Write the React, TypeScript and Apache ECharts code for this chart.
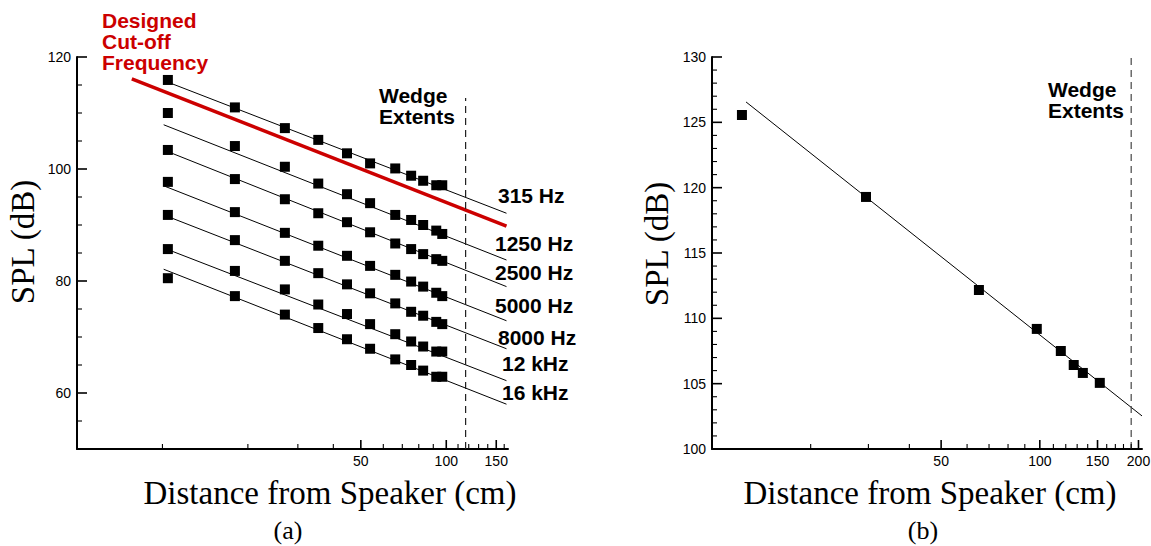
import React, { useEffect, useRef } from 'react';
import * as echarts from 'echarts';

// ---------- Panel (a) data ----------
const distA = [10.45, 18.0, 27.0, 35.4, 44.7, 53.9, 66.1, 75.2, 82.9, 92.2, 96.8];
const freqLabels = ['315 Hz', '1250 Hz', '2500 Hz', '5000 Hz', '8000 Hz', '12 kHz', '16 kHz'];
const spl315 = [115.9, 111.0, 107.3, 105.2, 102.8, 101.0, 100.1, 98.8, 97.9, 97.1, 97.1];
const spl1250 = [110.0, 104.1, 100.4, 97.4, 95.5, 93.9, 91.8, 90.9, 90.0, 89.0, 88.4];
const spl2500 = [103.4, 98.2, 94.6, 92.1, 90.5, 88.7, 86.7, 85.7, 84.8, 83.9, 83.6];
const spl5000 = [97.7, 92.3, 88.6, 86.3, 84.5, 82.7, 81.1, 79.9, 79.0, 77.9, 77.3];
const spl8000 = [91.8, 87.3, 83.6, 81.4, 79.4, 77.8, 76.0, 74.5, 73.8, 72.7, 72.3];
const spl12k = [85.7, 81.8, 78.5, 75.8, 74.1, 72.3, 70.5, 69.2, 68.3, 67.4, 67.4];
const spl16k = [80.5, 77.3, 74.0, 71.6, 69.6, 67.9, 66.0, 65.0, 64.0, 62.9, 62.9];
const splA = [spl315, spl1250, spl2500, spl5000, spl8000, spl12k, spl16k];

// fitted lines (endpoints) for panel (a)
const fitDistA = [10.1, 163];
const fitStartA = [115.8, 107.9, 103.4, 97.0, 91.8, 85.9, 82.1];
const fitEndA = [92.1, 83.75, 79.0, 72.9, 67.9, 62.2, 58.0];

// designed cut-off frequency line
const cutoffDist = [7.8, 163];
const cutoffSpl = [116.1, 89.8];

// wedge extents (a)
const wedgeDistA = 117;
const wedgeSplA = [50, 112.7];

// axis ranges and ticks (a)
const xRangeA = [5, 165];
const yRangeA = [50, 120];
const xMajorA = [50, 100, 150];
const xMinorA = [10, 20, 30, 40, 60, 70, 80, 90, 110, 120, 130, 140, 160];
const yMajorA = [60, 80, 100, 120];
const yMinorA = [55, 65, 70, 75, 85, 90, 95, 105, 110, 115];

// ---------- Panel (b) data ----------
const distB = [12.34, 29.5, 65.2, 97.9, 115.9, 126.9, 135.3, 152.4];
const splB = [125.56, 119.29, 112.17, 109.19, 107.5, 106.43, 105.82, 105.06];
const fitDistB = [12.7, 205];
const fitSplB = [126.56, 102.53];
const wedgeDistB = 190;
const wedgeSplB = [100, 130];

// axis ranges and ticks (b)
const xRangeB = [10, 205];
const yRangeB = [100, 130];
const xMajorB = [50, 100, 150, 200];
const xMinorB = [20, 30, 40, 60, 70, 80, 90, 110, 120, 130, 140, 160, 170, 180, 190];
const yMajorB = [100, 105, 110, 115, 120, 125, 130];
const yMinorB = [101, 102, 103, 104, 106, 107, 108, 109, 111, 112, 113, 114, 116, 117, 118, 119, 121, 122, 123, 124, 126, 127, 128, 129];

const L = (d: number) => Math.log10(d);
const SANS = '"Liberation Sans", Arial, sans-serif';
const SERIF = '"Liberation Serif", "Times New Roman", serif';

function xAxisCfg(gridIndex: number, range: number[], major: number[]) {
  return {
    type: 'value',
    gridIndex,
    position: 'bottom',
    min: L(range[0]),
    max: L(range[1]),
    splitLine: { show: false },
    axisLine: { show: true, onZero: false, lineStyle: { color: '#000', width: 2 } },
    axisTick: { show: false },
    axisLabel: {
      show: true,
      color: '#000',
      fontSize: 14,
      fontFamily: SANS,
      margin: 5,
      customValues: major.map(L),
      formatter: (v: number) => String(Math.round(Math.pow(10, v))),
    },
  };
}

function yAxisCfg(gridIndex: number, range: number[], major: number[]) {
  return {
    type: 'value',
    gridIndex,
    position: 'left',
    min: range[0],
    max: range[1],
    splitLine: { show: false },
    axisLine: { show: true, onZero: false, lineStyle: { color: '#000', width: 2 } },
    axisTick: { show: false },
    axisLabel: { show: true, color: '#000', fontSize: 14, fontFamily: SANS, margin: 6, customValues: major },
  };
}

function txt(text: string, x: number, y: number, font: string, fill = '#000', align = 'left', rotation = 0) {
  return { type: 'text', x, y, rotation, z: 20, style: { text, font, fill, textAlign: align, textVerticalAlign: 'middle' } };
}

export default function App() {
  const ref = useRef<HTMLDivElement>(null);
  useEffect(() => {
    const chart = echarts.init(ref.current!, null, { renderer: 'svg' });
    const series: any[] = [];

    // Panel (a)
    splA.forEach((vals, i) => {
      series.push({
        type: 'line', xAxisIndex: 0, yAxisIndex: 0, showSymbol: false,
        lineStyle: { color: '#000', width: 1 },
        data: [[L(fitDistA[0]), fitStartA[i]], [L(fitDistA[1]), fitEndA[i]]],
      });
      series.push({
        type: 'scatter', name: freqLabels[i], xAxisIndex: 0, yAxisIndex: 0, symbol: 'rect', symbolSize: 10,
        itemStyle: { color: '#000', opacity: 1 },
        data: vals.map((v, j) => [L(distA[j]), v]),
      });
    });
    series.push({
      type: 'line', xAxisIndex: 0, yAxisIndex: 0, showSymbol: false,
      lineStyle: { color: '#cc0000', width: 3.5 },
      data: cutoffDist.map((d, j) => [L(d), cutoffSpl[j]]),
    });
    series.push({
      type: 'line', xAxisIndex: 0, yAxisIndex: 0, showSymbol: false,
      lineStyle: { color: '#222', width: 1.2, type: [7, 5] },
      data: wedgeSplA.map((v) => [L(wedgeDistA), v]),
    });

    // Panel (b)
    series.push({
      type: 'line', xAxisIndex: 1, yAxisIndex: 1, showSymbol: false,
      lineStyle: { color: '#000', width: 1 },
      data: fitDistB.map((d, j) => [L(d), fitSplB[j]]),
    });
    series.push({
      type: 'scatter', xAxisIndex: 1, yAxisIndex: 1, symbol: 'rect', symbolSize: 10,
      itemStyle: { color: '#000', opacity: 1 },
      data: distB.map((d, j) => [L(d), splB[j]]),
    });
    series.push({
      type: 'line', xAxisIndex: 1, yAxisIndex: 1, showSymbol: false,
      lineStyle: { color: '#444', width: 1.2, type: [7, 5] },
      data: wedgeSplB.map((v) => [L(wedgeDistB), v]),
    });

    const option: any = {
      animation: false,
      backgroundColor: '#fff',
      grid: [
        { left: 77, top: 57, width: 431, height: 392, outerBoundsMode: 'none' },
        { left: 712, top: 57, width: 430, height: 392, outerBoundsMode: 'none' },
      ],
      xAxis: [xAxisCfg(0, xRangeA, xMajorA), xAxisCfg(1, xRangeB, xMajorB)],
      yAxis: [yAxisCfg(0, yRangeA, yMajorA), yAxisCfg(1, yRangeB, yMajorB)],
      series,
    };
    chart.setOption(option);

    // inward tick marks, placed through the axes' own scales
    const ticks: any[] = [];
    const addX = (grid: number, vals: number[], yBase: number, len: number, w: number) => {
      vals.forEach((d) => {
        const p = chart.convertToPixel({ gridIndex: grid }, [L(d), yBase]) as number[];
        ticks.push({ type: 'line', z: 100, silent: true, shape: { x1: p[0], y1: p[1], x2: p[0], y2: p[1] - len }, style: { stroke: '#000', lineWidth: w } });
      });
    };
    const addY = (grid: number, vals: number[], xBase: number, len: number, w: number) => {
      vals.forEach((v) => {
        const p = chart.convertToPixel({ gridIndex: grid }, [L(xBase), v]) as number[];
        ticks.push({ type: 'line', z: 100, silent: true, shape: { x1: p[0], y1: p[1], x2: p[0] + len, y2: p[1] }, style: { stroke: '#000', lineWidth: w } });
      });
    };
    addX(0, xMajorA, yRangeA[0], 9, 1.6);
    addX(0, xMinorA, yRangeA[0], 5, 1.1);
    addY(0, yMajorA, xRangeA[0], 10, 1.6);
    addY(0, yMinorA, xRangeA[0], 5, 1.1);
    addX(1, xMajorB, yRangeB[0], 9, 1.6);
    addX(1, xMinorB, yRangeB[0], 5, 1.1);
    addY(1, yMajorB, xRangeB[0], 10, 1.6);
    addY(1, yMinorB, xRangeB[0], 5, 1.1);

    const bold = 'bold 21px ' + SANS;
    const serif = '33px ' + SERIF;
    const freqPos = [[498, 195], [495, 243], [495, 272], [495, 305], [498, 337], [502, 363], [502, 392]];

    chart.setOption({
      graphic: [
        ...ticks,
        txt('Designed', 102, 20, bold, '#cc0000'),
        txt('Cut-off', 102, 41, bold, '#cc0000'),
        txt('Frequency', 102, 62, bold, '#cc0000'),
        txt('Wedge', 379, 95, bold),
        txt('Extents', 379, 116, bold),
        txt('Wedge', 1048, 89, bold),
        txt('Extents', 1048, 110, bold),
        ...freqLabels.map((f, i) => txt(f, freqPos[i][0], freqPos[i][1], bold)),
        txt('Distance from Speaker (cm)', 330, 493, serif, '#000', 'center'),
        txt('Distance from Speaker (cm)', 930, 493, serif, '#000', 'center'),
        txt('SPL (dB)', 23, 242, serif, '#000', 'center', Math.PI / 2),
        txt('SPL (dB)', 657, 244, serif, '#000', 'center', Math.PI / 2),
        txt('(a)', 288, 530, '26px ' + SERIF, '#000', 'center'),
        txt('(b)', 923, 530, '26px ' + SERIF, '#000', 'center'),
      ],
    });
    return () => chart.dispose();
  }, []);
  return <div ref={ref} style={{ position: 'absolute', left: 0, top: 0, width: 1151, height: 546 }} />;
}
